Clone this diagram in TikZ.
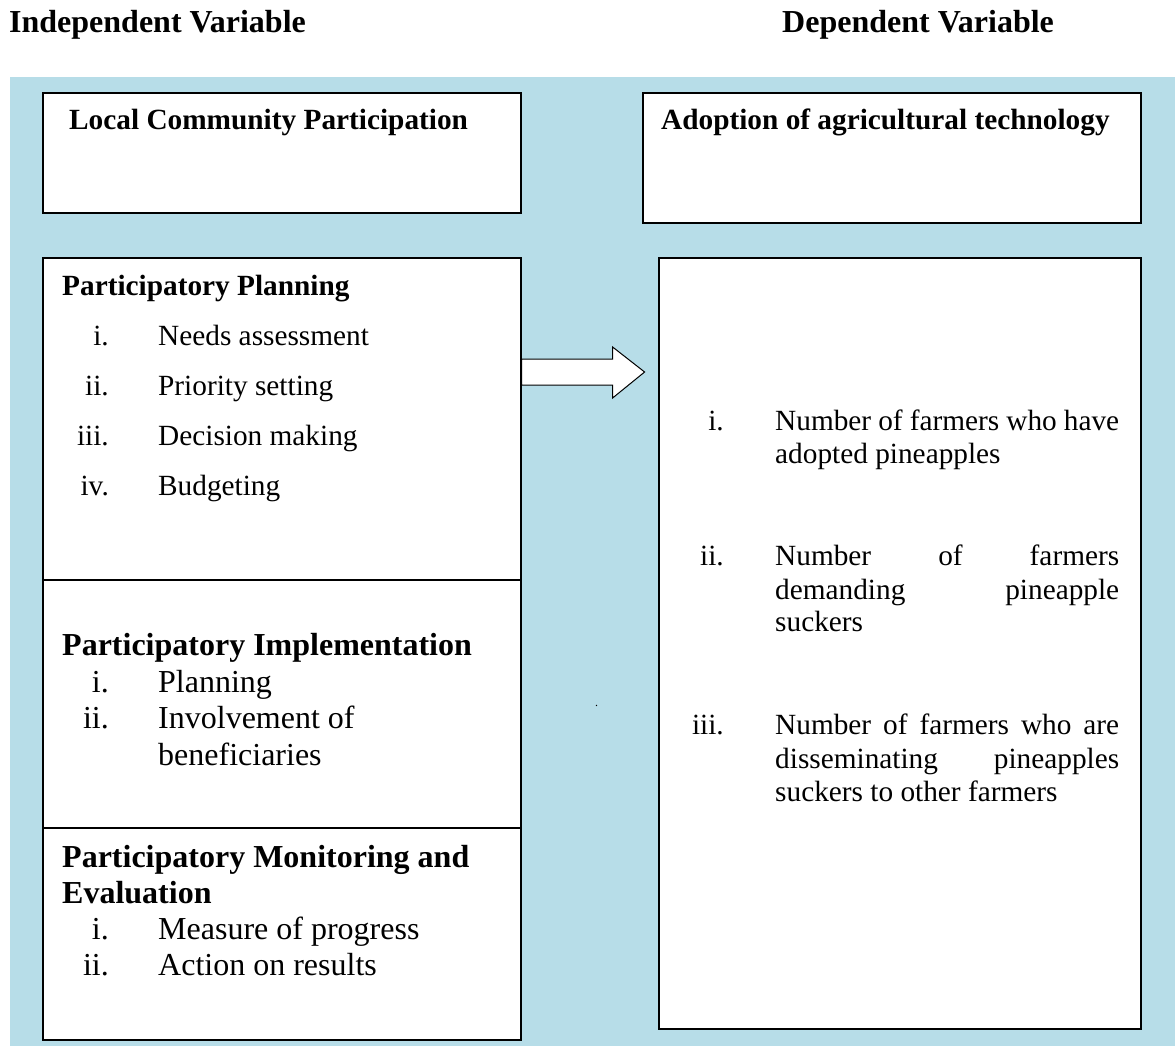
\documentclass[tikz,border=0pt]{standalone}
\usepackage{fontspec}
\setmainfont{Liberation Serif}
\definecolor{bgblue}{HTML}{B7DDE8}
\newcommand\szA{\fontsize{29.3pt}{33.7pt}\selectfont}
\newcommand\szB{\fontsize{32pt}{36.8pt}\selectfont}
\newcommand\szH{\fontsize{32pt}{36pt}\selectfont}
\pgfdeclarelayer{back}
\pgfdeclarelayer{mid}
\pgfsetlayers{back,mid,main}
\begin{document}
\begin{tikzpicture}[x=1pt,y=-1pt,
  box/.style={draw=black, line width=1.6pt, fill=white, rectangle, inner sep=0pt, anchor=north west},
  txt/.style={inner sep=0pt, anchor=base west},
  num/.style={inner sep=0pt, anchor=base east},
  bhead/.style={txt, font=\szA\bfseries},
  bbig/.style={txt, font=\szB\bfseries},
  item/.style={txt, font=\szA},
  itemn/.style={num, font=\szA},
  itemB/.style={txt, font=\szB},
  itemBn/.style={num, font=\szB},
  fatarrow/.style={draw=black, fill=white, line width=1pt, line join=miter}]
\useasboundingbox (0,0) rectangle (1175,1046);
\begin{pgfonlayer}{back}
\fill[bgblue] (10,77) rectangle (1175,1046);
\end{pgfonlayer}

% headings
\node[txt, font=\szH\bfseries] (hind) at (9,33) {Independent Variable};
\node[txt, font=\szH\bfseries] (hdep) at (782,33) {Dependent Variable};

% boxes
\node[box, minimum width=478, minimum height=120] (lcp) at (42,92) {};
\node[box, minimum width=498, minimum height=130] (adopt) at (642,92) {};
\node[box, minimum width=478, minimum height=322] (pp) at (42,257) {};
\node[box, minimum width=478, minimum height=248] (pi) at (42,579) {};
\node[box, minimum width=478, minimum height=212] (pme) at (42,827) {};
\node[box, minimum width=482, minimum height=771] (ind) at (658,257) {};

% block arrow from the left column towards the dependent variable box
\coordinate (a0) at (pp.east |- 0,372);
\begin{pgfonlayer}{mid}
\draw[fatarrow] (a0) +(0,-13) -- +(91,-13) -- +(91,-25) -- +(123,0)
  -- +(91,26) -- +(91,13) -- +(0,13) -- cycle;
\end{pgfonlayer}

% box titles
\node[bhead] (tlcp) at (69,130) {Local Community Participation};
\node[bhead] (tad) at (661,130) {Adoption of agricultural technology};

% participatory planning
\node[bhead] (tpp) at (62,295) {Participatory Planning};
\node[itemn] (pn1) at (109,345) {i.};
\node[item] (pt1) at (158,345) {Needs assessment};
\node[itemn] (pn2) at (109,395) {ii.};
\node[item] (pt2) at (158,395) {Priority setting};
\node[itemn] (pn3) at (109,445) {iii.};
\node[item] (pt3) at (158,445) {Decision making};
\node[itemn] (pn4) at (109,495) {iv.};
\node[item] (pt4) at (158,495) {Budgeting};

% participatory implementation
\node[bbig] (tpi) at (62,655) {Participatory Implementation};
\node[itemBn] (in1) at (109,692) {i.};
\node[itemB] (it1) at (158,692) {Planning};
\node[itemBn] (in2) at (109,728) {ii.};
\node[itemB] (it2) at (158,728) {Involvement of};
\node[itemB] (it2b) at (158,765) {beneficiaries};

% participatory M&E
\node[bbig] (tpme) at (62,867) {Participatory Monitoring and};
\node[bbig] (tpme2) at (62,903) {Evaluation};
\node[itemBn] (mn1) at (109,939) {i.};
\node[itemB] (mt1) at (158,939) {Measure of progress};
\node[itemBn] (mn2) at (109,975) {ii.};
\node[itemB] (mt2) at (158,975) {Action on results};

% dependent indicators
\node[itemn] (rn1) at (724,430) {i.};
\node[item] (r1a) at (775,430) {\makebox[344pt][s]{Number of farmers who have}};
\node[item] (r1b) at (775,463) {adopted pineapples};
\node[itemn] (rn2) at (724,565) {ii.};
\node[item] (r2a) at (775,565) {\makebox[344pt][s]{Number of farmers}};
\node[item] (r2b) at (775,599) {\makebox[344pt][s]{demanding pineapple}};
\node[item] (r2c) at (775,631) {suckers};
\node[itemn] (rn3) at (724,734) {iii.};
\node[item] (r3a) at (775,734) {\makebox[344pt][s]{Number of farmers who are}};
\node[item] (r3b) at (775,768) {\makebox[344pt][s]{disseminating pineapples}};
\node[item] (r3c) at (775,801) {suckers to other farmers};

% stray dot
\node[txt, font=\fontsize{12pt}{14pt}\selectfont] (dot) at (595,706) {.};
\end{tikzpicture}
\end{document}
